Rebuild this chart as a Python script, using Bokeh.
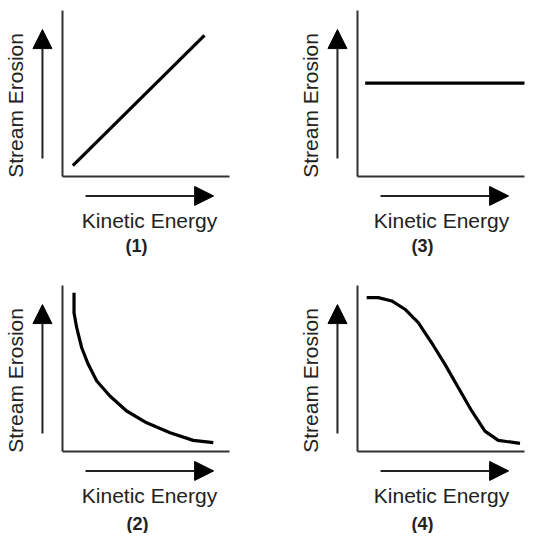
import math
from bokeh.plotting import figure
from bokeh.layouts import gridplot
from bokeh.models import Range1d, Arrow, NormalHead, Label
from bokeh.embed import file_html
from bokeh.resources import INLINE

# ---------------- data ----------------
panel_tags = ["(1)", "(2)", "(3)", "(4)"]
x_label = "Kinetic Energy"
y_label = "Stream Erosion"

# (1) linear increase
ke_linear = [0.62, 8.5]
erosion_linear = [0.66, 8.5]
# (3) constant
ke_constant = [0.46, 10.0]
erosion_constant = [5.62, 5.62]
# (2) decay
ke_decay = [0.69, 0.69, 0.85, 1.15, 1.54, 2.05, 2.84, 3.84, 5.04, 6.44, 7.83, 9.03]
erosion_decay = [9.57, 8.36, 7.46, 6.25, 5.25, 4.25, 3.34, 2.44, 1.73, 1.13, 0.67, 0.53]
# (4) sigmoid-like decrease
ke_sigmoid = [0.55, 1.25, 2.05, 2.84, 3.64, 4.44, 5.24, 6.04, 6.84, 7.63, 8.43, 9.73]
erosion_sigmoid = [9.27, 9.27, 9.07, 8.57, 7.76, 6.55, 5.25, 3.84, 2.44, 1.23, 0.67, 0.49]

# ---------------- layout constants ----------------
SX = 16.7   # px per data unit (x)
SY = 16.6   # px per data unit (y)
CORNER_X = 62   # local px of axis corner inside each panel
CORNER_Y = 176
AXIS_MAX = 10.0
FONT = "Liberation Sans"
INK = "#222222"


def make_panel(w, h, xs, ys, tag, label_dx, tag_dx, tag_dy):
    xr = Range1d(-CORNER_X / SX, (w - CORNER_X) / SX)
    yr = Range1d(-(h - CORNER_Y) / SY, CORNER_Y / SY)
    p = figure(width=w, height=h, x_range=xr, y_range=yr,
               x_axis_location=None, y_axis_location=None,
               toolbar_location=None, output_backend="svg", title=None,
               min_border=0, outline_line_color=None,
               background_fill_color="white", border_fill_color="white")
    p.xgrid.visible = False
    p.ygrid.visible = False
    p.min_border_left = p.min_border_right = 0
    p.min_border_top = p.min_border_bottom = 0

    # L-shaped axes
    p.line([0, 0], [0, AXIS_MAX], line_color="#333333", line_width=2)
    p.line([0, AXIS_MAX], [0, 0], line_color="#333333", line_width=2)

    # data curve
    p.line(xs, ys, line_color="black", line_width=3.2)

    # arrows
    p.add_layout(Arrow(x_start=-1.2, y_start=1.08, x_end=-1.2, y_end=8.85,
                       line_color=INK, line_width=2,
                       end=NormalHead(size=19, fill_color="black", line_color="black", line_width=1)))
    p.add_layout(Arrow(x_start=1.38, y_start=-1.17, x_end=9.05, y_end=-1.17,
                       line_color=INK, line_width=2,
                       end=NormalHead(size=19, fill_color="black", line_color="black", line_width=1)))

    # texts
    p.add_layout(Label(x=-2.81, y=4.28, text=y_label, angle=math.pi / 2,
                       text_align="center", text_baseline="middle",
                       text_font=FONT, text_font_size="21px", text_color=INK))
    p.add_layout(Label(x=label_dx / SX, y=-2.63, text=x_label,
                       text_align="center", text_baseline="middle",
                       text_font=FONT, text_font_size="21px", text_color=INK))
    p.add_layout(Label(x=tag_dx / SX, y=-tag_dy / SY, text=tag,
                       text_align="center", text_baseline="middle",
                       text_font=FONT, text_font_size="18px", text_font_style="bold",
                       text_color=INK))
    return p


p1 = make_panel(295, 275, ke_linear, erosion_linear, panel_tags[0], 87, 74, 69)
p3 = make_panel(234, 275, ke_constant, erosion_constant, panel_tags[2], 84, 65, 69)
p2 = make_panel(295, 258, ke_decay, erosion_decay, panel_tags[1], 87, 75, 72)
p4 = make_panel(234, 258, ke_sigmoid, erosion_sigmoid, panel_tags[3], 84, 65, 72)

grid = gridplot([[p1, p3], [p2, p4]], toolbar_location=None)

open("out.html", "w").write(file_html(grid, INLINE))
